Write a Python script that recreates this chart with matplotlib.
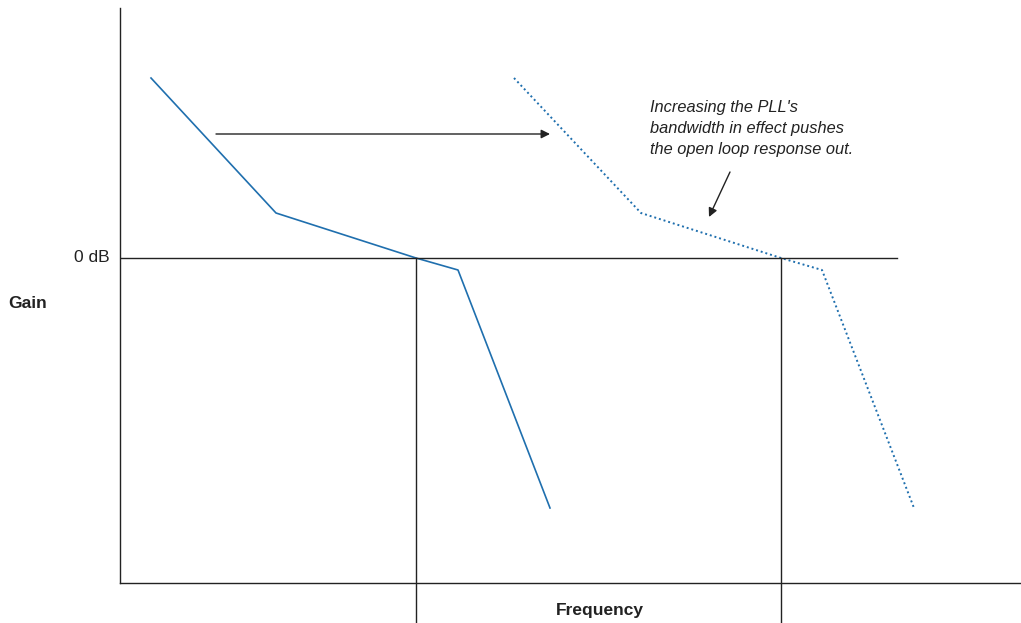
import matplotlib.pyplot as plt

# frequency (arbitrary units) and gain (arbitrary units, 0 = 0 dB)
freq_orig = [0.31, 1.56, 2.96, 3.38, 4.30]
gain_orig = [7.2, 1.8, 0.0, -0.48, -10.0]
freq_wide = [3.94, 5.21, 6.61, 7.02, 7.94]
gain_wide = [7.2, 1.8, 0.0, -0.48, -10.0]
crossover = [2.96, 6.61]
note = "Increasing the PLL's\nbandwidth in effect pushes\nthe open loop response out."

blue = '#1f6fae'
plt.rcParams['font.family'] = ['Liberation Sans', 'DejaVu Sans']

fig = plt.figure(figsize=(10.21, 6.23), dpi=100)
ax = fig.add_axes([120 / 1021, 40 / 623, 901 / 1021, 575 / 623])
ax.set_xlim(0, 9.01)
ax.set_ylim(-13, 10)
for s in ['top', 'right']:
    ax.spines[s].set_visible(False)
for s in ['left', 'bottom']:
    ax.spines[s].set_linewidth(1.0)
    ax.spines[s].set_color('#222222')
ax.set_xticks([])
ax.set_yticks([])

ax.plot(freq_orig, gain_orig, color=blue, lw=1.2)
ax.plot(freq_wide, gain_wide, color=blue, lw=1.4, ls=(0, (1, 1.5)))

ax.plot([0, 7.77], [0, 0], color='#222222', lw=1.0)
for f in crossover:
    ax.plot([f, f], [0, -14.6], color='#222222', lw=1.0, clip_on=False)

ax.annotate('', xy=(4.30, 4.96), xytext=(0.96, 4.96),
            arrowprops=dict(arrowstyle='-|>', color='#222222', lw=1.0,
                            mutation_scale=13, shrinkA=0, shrinkB=0))
ax.annotate('', xy=(5.89, 1.64), xytext=(6.10, 3.44),
            arrowprops=dict(arrowstyle='-|>', color='#222222', lw=1.0,
                            mutation_scale=13, shrinkA=0, shrinkB=0))

ax.text(5.30, 6.32, note, fontsize=11.8, style='italic', color='#222222',
        va='top', ha='left', linespacing=1.5)

ax.text(-0.10, 0, '0 dB', fontsize=12.5, ha='right', va='center', color='#222222')
ax.text(-1.12, -1.8, 'Gain', fontsize=12.5, fontweight='bold', ha='left', va='center', color='#222222')
ax.text(4.80, -14.1, 'Frequency', fontsize=12.5, fontweight='bold', ha='center', va='center',
        color='#222222', clip_on=False)

fig.savefig('out.png', dpi=100)
